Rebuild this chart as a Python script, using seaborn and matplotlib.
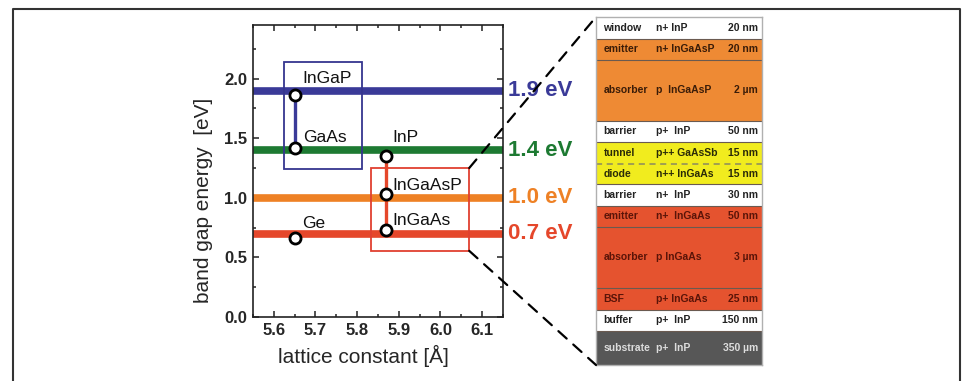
import numpy as np
import seaborn as sns
import matplotlib.pyplot as plt
from matplotlib.patches import Rectangle, ConnectionPatch
from matplotlib.lines import Line2D
from matplotlib.ticker import MultipleLocator
import matplotlib.transforms as mtransforms

# target band gaps of the four subcells
band_gaps = [1.9, 1.4, 1.0, 0.7]
band_labels = ["1.9 eV", "1.4 eV", "1.0 eV", "0.7 eV"]
band_colors = ["#3a3a98", "#1d7a32", "#ee8125", "#e5472b"]

# materials: lattice constant [A] and band gap [eV]
materials = ["InGaP", "GaAs", "Ge", "InP", "InGaAsP", "InGaAs"]
lattice = [5.65, 5.65, 5.65, 5.87, 5.87, 5.87]
gaps = [1.86, 1.42, 0.66, 1.35, 1.03, 0.73]

# lattice-matched material pairs joined by a vertical line
pairs = [("InGaP", "GaAs"), ("InP", "InGaAs")]
pair_colors = ["#3a3a98", "#e5472b"]

# highlight boxes (x0, x1, y0, y1)
boxes = [(5.624, 5.812, 1.24, 2.14), (5.833, 6.069, 0.555, 1.25)]
box_colors = ["#35358f", "#e04030"]

# layer stack of the cell, top to bottom
layer_names = ["window", "emitter", "absorber", "barrier", "tunnel", "diode",
               "barrier", "emitter", "absorber", "BSF", "buffer", "substrate"]
layer_doping = ["n+ InP", "n+ InGaAsP", "p  InGaAsP", "p+  InP", "p++ GaAsSb", "n++ InGaAs",
                "n+  InP", "n+  InGaAs", "p InGaAs", "p+ InGaAs", "p+  InP", "p+  InP"]
layer_thick = ["20 nm", "20 nm", "2 µm", "50 nm", "15 nm", "15 nm",
               "30 nm", "50 nm", "3 µm", "25 nm", "150 nm", "350 µm"]
layer_height = [22, 21, 61, 21, 22, 20, 22, 21, 61, 22, 21, 34]   # drawn height, not to scale
layer_colors = ["#ffffff", "#ee8a34", "#ee8a34", "#ffffff", "#f1ec1e", "#f1ec1e",
                "#ffffff", "#e5532f", "#e5532f", "#e5532f", "#ffffff", "#575757"]
layer_text = ["#222222", "#3a1c08", "#3a1c08", "#222222", "#2a2a08", "#2a2a08",
              "#222222", "#5a1408", "#5a1408", "#5a1408", "#222222", "#dddddd"]

# offsets of material labels from their points (pixels)
label_off = {"InGaP": (8, 17), "GaAs": (8, 10), "Ge": (7, 15),
             "InP": (6, 19), "InGaAsP": (6, 9), "InGaAs": (6, 9)}

sns.set_theme(style="ticks")
plt.rcParams["font.family"] = ["Liberation Sans", "DejaVu Sans"]

fig = plt.figure(figsize=(9.63, 3.81), dpi=100)
ax = fig.add_axes([0.2627, 0.1680, 0.2596, 0.7664])

for g, c in zip(band_gaps, band_colors):
    ax.axhline(g, color=c, lw=5.5, zorder=2)

trans = mtransforms.blended_transform_factory(ax.transAxes, ax.transData)
for g, lab, c in zip(band_gaps, band_labels, band_colors):
    ax.text(1.02, g, lab, transform=trans, color=c, fontsize=16, fontweight="bold",
            va="center", ha="left", clip_on=False)

for (x0, x1, y0, y1), c in zip(boxes, box_colors):
    ax.add_patch(Rectangle((x0, y0), x1 - x0, y1 - y0, fill=False, ec=c, lw=1.3, zorder=3))

idx = {m: i for i, m in enumerate(materials)}
for (a, b), c in zip(pairs, pair_colors):
    sns.lineplot(x=[lattice[idx[a]], lattice[idx[b]]], y=[gaps[idx[a]], gaps[idx[b]]],
                 color=c, lw=2.4, estimator=None, sort=False, ax=ax, zorder=4)

sns.scatterplot(x=lattice, y=gaps, s=64, color="white", edgecolor="black",
                linewidth=2, ax=ax, zorder=5)

for m, x, y in zip(materials, lattice, gaps):
    ax.annotate(m, (x, y), xytext=label_off[m], textcoords="offset pixels",
                fontsize=12.5, ha="left", va="center", color="#111111", zorder=6)

ax.set_xlim(5.55, 6.15)
ax.set_ylim(0, 2.45)
ax.xaxis.set_major_locator(MultipleLocator(0.1))
ax.xaxis.set_minor_locator(MultipleLocator(0.05))
ax.yaxis.set_major_locator(MultipleLocator(0.5))
ax.yaxis.set_minor_locator(MultipleLocator(0.25))
ax.tick_params(which="both", direction="in", top=True, right=True, width=1.1, color="#222222")
ax.tick_params(which="major", length=4, labelsize=12, pad=4)
ax.tick_params(which="minor", length=2.5)
for t in ax.get_xticklabels() + ax.get_yticklabels():
    t.set_fontweight("bold")
for sp in ax.spines.values():
    sp.set_linewidth(1.2)
    sp.set_color("#222222")

ax.set_xlabel("lattice constant [Å]", fontsize=15)
ax.set_ylabel("band gap energy  [eV]", fontsize=15)
ax.xaxis.set_label_coords(0.44, -0.095)
ax.yaxis.set_label_coords(-0.16, 0.40)

# layer stack
ax2 = fig.add_axes([0.6189, 0.0420, 0.1724, 0.9134])
bottoms = np.concatenate([[0], np.cumsum(layer_height)[:-1]])
ax2.bar(0, layer_height, bottom=bottoms, width=1, align="edge", color=layer_colors,
        edgecolor="none")
total = sum(layer_height)
for i, (b, h) in enumerate(zip(bottoms, layer_height)):
    yc = b + h / 2
    ax2.text(0.045, yc, layer_names[i], color=layer_text[i], fontsize=7.5,
             fontweight="bold", va="center", ha="left")
    ax2.text(0.36, yc, layer_doping[i], color=layer_text[i], fontsize=7.5,
             fontweight="bold", va="center", ha="left")
    ax2.text(0.975, yc, layer_thick[i], color=layer_text[i], fontsize=7.5,
             fontweight="bold", va="center", ha="right")
    if i > 0:
        if layer_names[i] == "diode":
            ax2.axhline(b, color="#8a8a60", lw=1.1, ls=(0, (4, 3)))
        else:
            ax2.axhline(b, color="#6a5a50", lw=0.8)
ax2.set_xlim(0, 1)
ax2.set_ylim(total, 0)
ax2.set_xticks([])
ax2.set_yticks([])
for sp in ax2.spines.values():
    sp.set_color("#b0b0b0")
    sp.set_linewidth(1.0)

# zoom lines from the red box to the stack
x0, x1, y0, y1 = boxes[1]
for ya, yb in [(y1, 1), (y0, 0)]:
    con = ConnectionPatch(xyA=(x1, ya), coordsA=ax.transData, xyB=(0, yb),
                          coordsB=ax2.transAxes, color="black", lw=1.6,
                          ls=(0, (5, 4)), zorder=10)
    fig.add_artist(con)

# outer frame, open at the bottom
fl, fr, ft = 12.5 / 963, 959.5 / 963, 1 - 8.5 / 381
fig.add_artist(Line2D([fl, fl, fr, fr], [0, ft, ft, 0], transform=fig.transFigure,
                      color="#333333", lw=1.5))

fig.savefig("out.png", dpi=100)
